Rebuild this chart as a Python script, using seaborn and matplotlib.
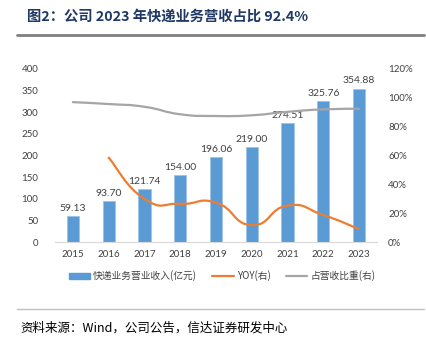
import matplotlib
matplotlib.use("Agg")
import matplotlib.pyplot as plt
import seaborn as sns
import numpy as np
import pandas as pd
from matplotlib.path import Path
from matplotlib.patches import PathPatch
from matplotlib.lines import Line2D
from matplotlib.patches import Patch

years = ["2015", "2016", "2017", "2018", "2019", "2020", "2021", "2022", "2023"]
revenue = [59.13, 93.70, 121.74, 154.00, 196.06, 219.00, 274.51, 325.76, 354.88]
yoy = [None, 58.5, 29.9, 26.5, 27.3, 11.7, 25.3, 18.7, 8.9]
share = [97.0, 95.7, 93.8, 88.6, 87.4, 87.9, 90.3, 92.0, 92.4]
left_ticks = [0, 50, 100, 150, 200, 250, 300, 350, 400]
right_ticks = [0, 20, 40, 60, 80, 100, 120]
title = "图2：公司 2023 年快递业务营收占比 92.4%"
source = "资料来源：Wind，公司公告，信达证券研发中心"
legend_labels = ["快递业务营业收入(亿元)", "YOY(右)", "占营收比重(右)"]

sns.set_theme(style="white")
plt.rcParams['font.family'] = ['Lato', 'Noto Sans CJK SC', 'DejaVu Sans']

BAR = "#5B9BD5"
ORANGE = "#ED7D31"
GRAY = "#A5A5A5"
TXT = "#404040"

fig = plt.figure(figsize=(4.27, 3.46), dpi=100)
ax = fig.add_axes([55/427, 1-242/346, 322/427, 173/346])

df = pd.DataFrame({"year": years, "revenue": revenue})
sns.barplot(data=df, x="year", y="revenue", color=BAR, width=0.34,
            saturation=1, ax=ax, edgecolor="#9DC3E6", linewidth=0.6)
ax.set_xlim(-0.5, len(years)-0.5)
ax.set_ylim(0, 400)
ax.set_yticks(left_ticks)
ax.set_yticklabels([str(t) for t in left_ticks])
ax.set_xlabel("")
ax.set_ylabel("")
for i, v in enumerate(revenue):
    ax.text(i, v + 8, f"{v:.2f}", ha="center", va="bottom", fontsize=7.5, color=TXT)

for s in ["top", "right", "left"]:
    ax.spines[s].set_visible(False)
ax.spines["bottom"].set_color("#D9D9D9")
ax.spines["bottom"].set_linewidth(0.8)
ax.tick_params(axis="both", length=0, labelsize=7, colors=TXT, pad=6)
ax.tick_params(axis="y", pad=12)

ax2 = ax.twinx()
ax2.set_ylim(0, 120)
ax2.set_yticks(right_ticks)
ax2.set_yticklabels([f"{t}%" for t in right_ticks])
ax2.tick_params(axis="y", length=0, labelsize=7, colors=TXT, pad=8)
for s in ["top", "right", "left", "bottom"]:
    ax2.spines[s].set_visible(False)
ax2.grid(False)
ax.grid(False)


def smooth_path(xs, ys, t=0.5):
    verts = [(xs[0], ys[0])]
    codes = [Path.MOVETO]
    n = len(xs)
    for i in range(n - 1):
        x0, y0 = (xs[i-1], ys[i-1]) if i > 0 else (xs[i], ys[i])
        x1, y1 = xs[i], ys[i]
        x2, y2 = xs[i+1], ys[i+1]
        x3, y3 = (xs[i+2], ys[i+2]) if i + 2 < n else (xs[i+1], ys[i+1])
        c1 = (x1 + (x2 - x0) * t / 3, y1 + (y2 - y0) * t / 3)
        c2 = (x2 - (x3 - x1) * t / 3, y2 - (y3 - y1) * t / 3)
        verts += [c1, c2, (x2, y2)]
        codes += [Path.CURVE4] * 3
    return Path(verts, codes)

xs_share = list(range(len(years)))
ax2.add_patch(PathPatch(smooth_path(xs_share, share, 0.8), facecolor="none",
                        edgecolor=GRAY, lw=1.6, capstyle="round"))
yi = [i for i, v in enumerate(yoy) if v is not None]
yv = [v for v in yoy if v is not None]
ax2.add_patch(PathPatch(smooth_path(yi, yv, 0.8), facecolor="none",
                        edgecolor=ORANGE, lw=1.6, capstyle="round"))

handles = [Patch(facecolor=BAR, edgecolor=BAR),
           Line2D([0], [0], color=ORANGE, lw=1.6),
           Line2D([0], [0], color=GRAY, lw=1.6)]
fig.legend(handles, legend_labels, loc="center", bbox_to_anchor=(222/427, 1-276/346),
           ncol=3, frameon=False, handlelength=2.2, handleheight=0.5,
           columnspacing=1.6, handletextpad=0.3, labelcolor=TXT,
           prop={"family": ["Noto Sans CJK SC", "DejaVu Sans"], "size": 7})

fig.text(27/427, 1-17/346, title, fontsize=10.3, fontweight="bold", color="#1F3864",
         ha="left", va="center", family=["Noto Sans CJK SC", "DejaVu Sans"])
fig.add_artist(Line2D([17/427, 424/427], [1-35/346, 1-35/346], color="#7F7F7F", lw=2))
fig.add_artist(Line2D([17/427, 424/427], [1-309/346, 1-309/346], color="#BFBFBF", lw=1))
fig.text(20/427, 1-328/346, source, fontsize=9, style="italic", color="#000000",
         ha="left", va="center", family=["Noto Sans CJK SC", "DejaVu Sans"])

fig.savefig("out.png", dpi=100)
